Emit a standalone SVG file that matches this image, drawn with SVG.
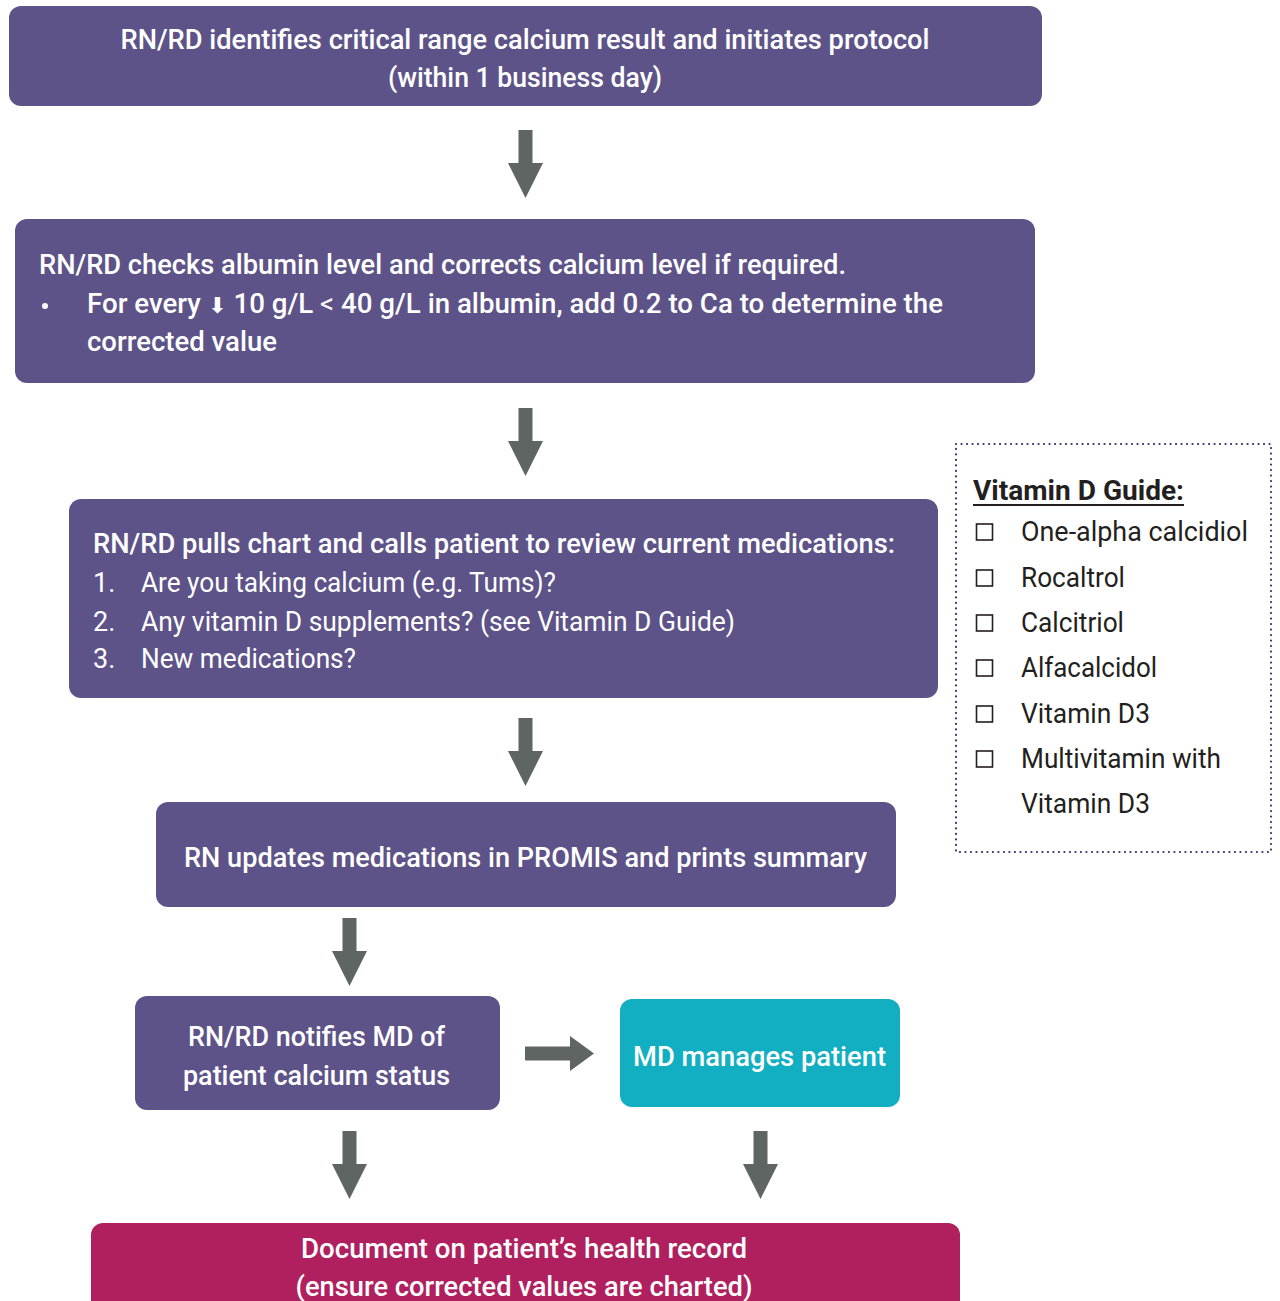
<svg xmlns="http://www.w3.org/2000/svg" width="1280" height="1301" viewBox="0 0 1280 1301">
<defs>
<style>
.box{fill:#5D5388;}
.teal{fill:#12AEC1;}
.mag{fill:#B01F5E;}
.t{font-family:Roboto,"Liberation Sans",sans-serif;font-size:27px;fill:#ffffff;font-weight:500;}
.r{font-weight:400;}
.c{text-anchor:middle;}
.g{font-family:Roboto,"Liberation Sans",sans-serif;font-size:27px;fill:#231F20;}
.arrow{fill:#5F6563;}
.cb{fill:none;stroke:#231F20;stroke-width:1.6;}
</style>
</defs>
<rect width="1280" height="1301" fill="#ffffff"/>

<g id="connectors">
<path class="arrow" d="M518.5 130 H532.5 V163 H543 L525.5 198 L508 163 H518.5 Z"/>
<path class="arrow" d="M518.5 408 H532.5 V441 H543 L525.5 476 L508 441 H518.5 Z"/>
<path class="arrow" d="M518.5 718 H532.5 V751 H543 L525.5 786 L508 751 H518.5 Z"/>
<path class="arrow" d="M342.5 918 H356.5 V951 H367 L349.5 986 L332 951 H342.5 Z"/>
<path class="arrow" d="M525 1046.5 H570 V1036 L594 1053.5 L570 1071 V1060.5 H525 Z"/>
<path class="arrow" d="M342.5 1131 H356.5 V1164 H367 L349.5 1199 L332 1164 H342.5 Z"/>
<path class="arrow" d="M753.5 1131 H767.5 V1164 H778 L760.5 1199 L743 1164 H753.5 Z"/>
</g>

<g id="n1">
<rect class="box" x="9" y="6" width="1033" height="100" rx="12"/>
<text class="t c" x="525" y="49" textLength="809" lengthAdjust="spacingAndGlyphs">RN/RD identifies critical range calcium result and initiates protocol</text>
<text class="t c" x="525" y="87" textLength="274" lengthAdjust="spacingAndGlyphs">(within 1 business day)</text>
</g>

<g id="n2">
<rect class="box" x="15" y="219" width="1020" height="164" rx="12"/>
<text class="t" x="39" y="274" textLength="807" lengthAdjust="spacingAndGlyphs">RN/RD checks albumin level and corrects calcium level if required.</text>
<circle cx="45" cy="306" r="3" fill="#ffffff"/>
<text class="t" x="87" y="313" textLength="856" lengthAdjust="spacingAndGlyphs">For every <tspan font-family="'DejaVu Sans',sans-serif" font-size="22">⬇</tspan>  10 g/L <tspan class="r">&lt;</tspan> 40 g/L in albumin, add 0.2 to Ca to determine the</text>
<text class="t" x="87" y="351" textLength="190" lengthAdjust="spacingAndGlyphs">corrected value</text>
</g>

<g id="n3">
<rect class="box" x="69" y="499" width="869" height="199" rx="12"/>
<text class="t" x="93" y="553" textLength="802" lengthAdjust="spacingAndGlyphs">RN/RD pulls chart and calls patient to review current medications:</text>
<text class="t r" x="93" y="592">1.</text>
<text class="t r" x="141" y="592" textLength="415" lengthAdjust="spacingAndGlyphs">Are you taking calcium (e.g. Tums)?</text>
<text class="t r" x="93" y="631">2.</text>
<text class="t r" x="141" y="631" textLength="594" lengthAdjust="spacingAndGlyphs">Any vitamin D supplements? (see Vitamin D Guide)</text>
<text class="t r" x="93" y="668">3.</text>
<text class="t r" x="141" y="668" textLength="215" lengthAdjust="spacingAndGlyphs">New medications?</text>
</g>

<g id="n4">
<rect class="box" x="156" y="802" width="740" height="105" rx="12"/>
<text class="t c" x="525.5" y="867" textLength="683" lengthAdjust="spacingAndGlyphs">RN updates medications in PROMIS and prints summary</text>
</g>

<g id="n5">
<rect class="box" x="135" y="996" width="365" height="114" rx="12"/>
<text class="t c" x="316.5" y="1046" textLength="257" lengthAdjust="spacingAndGlyphs">RN/RD notifies MD of</text>
<text class="t c" x="316.5" y="1085" textLength="267" lengthAdjust="spacingAndGlyphs">patient calcium status</text>
</g>

<g id="n6">
<rect class="teal" x="620" y="999" width="280" height="108" rx="12"/>
<text class="t c" x="759.5" y="1066" textLength="253" lengthAdjust="spacingAndGlyphs">MD manages patient</text>
</g>

<g id="n7">
<rect class="mag" x="91" y="1223" width="869" height="100" rx="12"/>
<text class="t c" x="524" y="1258" textLength="446" lengthAdjust="spacingAndGlyphs">Document on patient’s health record</text>
<text class="t c" x="524" y="1296" textLength="457" lengthAdjust="spacingAndGlyphs">(ensure corrected values are charted)</text>
</g>

<g id="guide">
<rect x="956" y="444" width="315" height="408" fill="none" stroke="#3B3470" stroke-width="2.2" stroke-dasharray="0.1 5.4" stroke-linecap="round"/>
<text class="g" x="973" y="500" font-weight="700" textLength="211" lengthAdjust="spacingAndGlyphs">Vitamin D Guide:</text>
<rect x="973" y="504" width="211" height="2" fill="#231F20"/>
<rect class="cb" x="976.5" y="524" width="16" height="16"/>
<text class="g" x="1021" y="541" textLength="227" lengthAdjust="spacingAndGlyphs">One-alpha calcidiol</text>
<rect class="cb" x="976.5" y="570" width="16" height="16"/>
<text class="g" x="1021" y="587" textLength="104" lengthAdjust="spacingAndGlyphs">Rocaltrol</text>
<rect class="cb" x="976.5" y="615" width="16" height="16"/>
<text class="g" x="1021" y="632" textLength="103" lengthAdjust="spacingAndGlyphs">Calcitriol</text>
<rect class="cb" x="976.5" y="660" width="16" height="16"/>
<text class="g" x="1021" y="677" textLength="136" lengthAdjust="spacingAndGlyphs">Alfacalcidol</text>
<rect class="cb" x="976.5" y="706" width="16" height="16"/>
<text class="g" x="1021" y="723" textLength="129" lengthAdjust="spacingAndGlyphs">Vitamin D3</text>
<rect class="cb" x="976.5" y="751" width="16" height="16"/>
<text class="g" x="1021" y="768" textLength="200" lengthAdjust="spacingAndGlyphs">Multivitamin with</text>
<text class="g" x="1021" y="813" textLength="129" lengthAdjust="spacingAndGlyphs">Vitamin D3</text>
</g>
</svg>
